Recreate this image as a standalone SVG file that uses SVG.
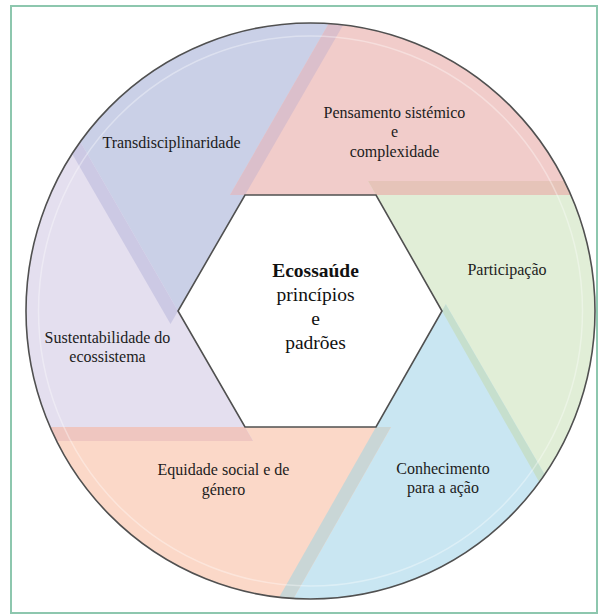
<svg xmlns="http://www.w3.org/2000/svg" width="598" height="615" viewBox="0 0 598 615">
  <defs>
    <clipPath id="disc">
      <ellipse cx="310.5" cy="311" rx="284.5" ry="288"/>
    </clipPath>
    <style>
      .lbl { font-family: "Liberation Serif", "Times New Roman", serif; font-size: 16px; fill: #1c1c1c; text-anchor: middle; }
      .hub { font-family: "Liberation Serif", "Times New Roman", serif; font-size: 19.5px; fill: #111; text-anchor: middle; }
      .seg { clip-path: url(#disc); }
      .edge { fill: none; stroke: #505050; stroke-width: 1.6; }
    </style>
  </defs>

  <rect x="11" y="6" width="586" height="607" fill="#ffffff" stroke="#8DC7AE" stroke-width="2"/>

  <g id="seg-transdisciplinaridade">
    <polygon class="seg" fill="#CAD0E7" points="170.5,324 -189.8,-300 530.8,-300"/>
    <text class="lbl" x="171.5" y="148">Transdisciplinaridade</text>
  </g>
  <g id="seg-pensamento">
    <polygon class="seg" fill="#F1CCCA" points="230,195 400,-100 900,-100 900,195"/>
    <text class="lbl" x="394.5" y="118">Pensamento sistémico</text>
    <text class="lbl" x="394.5" y="137">e</text>
    <text class="lbl" x="394.5" y="157">complexidade</text>
  </g>
  <g id="seg-participacao">
    <polygon class="seg" fill="#E1EED7" points="368,181 1000,181 1000,900 776.8,900 376,195"/>
    <text class="lbl" x="507" y="275">Participação</text>
  </g>
  <g id="seg-conhecimento">
    <polygon class="seg" fill="#C9E6F2" points="445.8,304.3 791.8,900 107,900"/>
    <text class="lbl" x="443" y="474">Conhecimento</text>
    <text class="lbl" x="443" y="493">para a ação</text>
  </g>
  <g id="seg-equidade">
    <polygon class="seg" fill="#FBD8C8" points="391,427 122,900 -300,900 -300,427"/>
    <text class="lbl" x="223.5" y="475">Equidade social e de</text>
    <text class="lbl" x="223.5" y="495">género</text>
  </g>
  <g id="seg-sustentabilidade">
    <polygon class="seg" fill="#E4DFEF" points="253.1,441 -174.7,-300 -300,-300 -300,441"/>
    <text class="lbl" x="107.5" y="343">Sustentabilidade do</text>
    <text class="lbl" x="107.5" y="362">ecossistema</text>
  </g>

  <g id="overlaps" class="seg">
    <polygon fill="#DBBFCB" points="230,195 245,195 415.3,-100 400,-100"/>
    <polygon fill="#E6C4B9" points="368,181 376,195 900,195 900,181"/>
    <polygon fill="#C6DFCD" points="442,311 445.8,304.3 791.8,900 776.8,900"/>
    <polygon fill="#C9D6D6" points="376,427 391,427 122,900 107,900"/>
    <polygon fill="#EFC6C0" points="245,427 253.1,441 -300,441 -300,427"/>
    <polygon fill="#CCC9E4" points="178,311 170.5,324 -189.8,-300 -174.7,-300"/>
  </g>

  <ellipse cx="310.5" cy="311" rx="272" ry="275" fill="none" stroke="#ffffff" stroke-opacity="0.35" stroke-width="1.5"/>
  <ellipse class="edge" cx="310.5" cy="311" rx="284.5" ry="288"/>

  <g id="hub-ecossaude">
    <polygon fill="#ffffff" stroke="#505050" stroke-width="1.6" points="245,195 376,195 442,311 376,427 245,427 178,311"/>
    <text class="hub" x="315.5" y="277" font-weight="bold">Ecossaúde</text>
    <text class="hub" x="315.5" y="301">princípios</text>
    <text class="hub" x="315.5" y="325">e</text>
    <text class="hub" x="315.5" y="349">padrões</text>
  </g>
</svg>
